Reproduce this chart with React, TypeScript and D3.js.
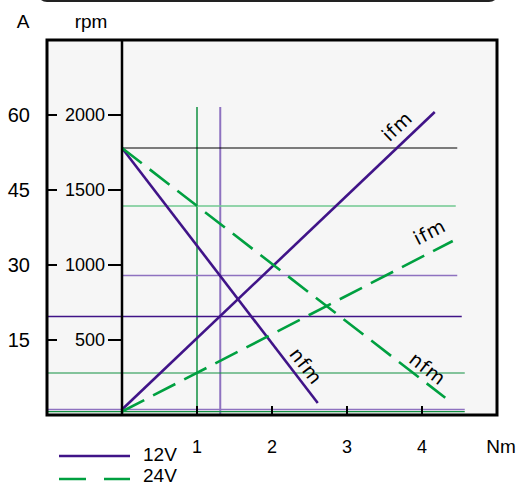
import React from "react";
import * as d3 from "d3";

// torque axis (Nm), speed (rpm) and current (A)
const torqueTicks = [1, 2, 3, 4];
const rpmTicks = [500, 1000, 1500, 2000];
const ampTicks = [15, 30, 45, 60];

// speed curves n = f(M)
const speed12V = [
  { nm: 0, rpm: 1780 },
  { nm: 2.61, rpm: 80 },
];
const speed24V = [
  { nm: 0, rpm: 1780 },
  { nm: 4.31, rpm: 115 },
];
// current curves I = f(M)
const current12V = [
  { nm: 0, a: 1.1 },
  { nm: 4.17, a: 60.6 },
];
const current24V = [
  { nm: 0, a: 0.7 },
  { nm: 4.41, a: 34.8 },
];

// reference lines
const rpmRefs = [
  { rpm: 1780, from: 0, to: 4.47, kind: "black" },
  { rpm: 1393, from: 0, to: 4.45, kind: "lightGreen" },
  { rpm: 930, from: 0, to: 4.47, kind: "lightPurple" },
];
const ampRefs = [
  { a: 19.7, from: -1, to: 4.53, kind: "purple" },
  { a: 8.4, from: -1, to: 4.57, kind: "green" },
  { a: 1.1, from: -1, to: 4.57, kind: "lightPurple" },
  { a: 0.66, from: -1, to: 4.57, kind: "green" },
];
const torqueRefs = [
  { nm: 1.0, top: 2053, kind: "green" },
  { nm: 1.31, top: 2053, kind: "lightPurple" },
];

const PURPLE = "#401488";
const GREEN = "#00a040";
const refStyle: Record<string, { stroke: string; width: number }> = {
  black: { stroke: "#000", width: 1.2 },
  lightGreen: { stroke: "#70c890", width: 1.5 },
  lightPurple: { stroke: "#8e72c0", width: 1.5 },
  purple: { stroke: "#401488", width: 1.3 },
  green: { stroke: "#109040", width: 1.2 },
};

export default function App() {
  const width = 532;
  const height = 487;

  const x = d3.scaleLinear().domain([-1, 5]).range([47, 497]);
  const yRpm = d3.scaleLinear().domain([0, 2500]).range([415, 40]);
  const yAmp = d3.scaleLinear().domain([0, 75]).range([415, 40]);

  const speedLine = d3
    .line<{ nm: number; rpm: number }>()
    .x((d) => x(d.nm))
    .y((d) => yRpm(d.rpm));
  const ampLine = d3
    .line<{ nm: number; a: number }>()
    .x((d) => x(d.nm))
    .y((d) => yAmp(d.a));

  // label along a segment, pushed off perpendicular
  const labelAt = (
    p0: [number, number],
    p1: [number, number],
    t: number,
    off: number
  ) => {
    const dx = p1[0] - p0[0];
    const dy = p1[1] - p0[1];
    const len = Math.hypot(dx, dy);
    const ang = (Math.atan2(dy, dx) * 180) / Math.PI;
    const px = p0[0] + dx * t + (-dy / len) * off;
    const py = p0[1] + dy * t + (dx / len) * off;
    return { px, py, ang };
  };

  const seg = (pts: any[], yf: (d: any) => number) =>
    [
      [x(pts[0].nm), yf(pts[0])],
      [x(pts[1].nm), yf(pts[1])],
    ] as [number, number][];

  const s12 = seg(speed12V, (d) => yRpm(d.rpm));
  const s24 = seg(speed24V, (d) => yRpm(d.rpm));
  const c12 = seg(current12V, (d) => yAmp(d.a));
  const c24 = seg(current24V, (d) => yAmp(d.a));

  const labels = [
    { ...labelAt(c12[0], c12[1], 0.914, -14.5), text: "ifm" },
    { ...labelAt(c24[0], c24[1], 0.956, -17.5), text: "ifm" },
    { ...labelAt(s12[0], s12[1], 0.887, -12), text: "nfm" },
    { ...labelAt(s24[0], s24[1], 0.923, -11), text: "nfm" },
  ];

  const font = "'Liberation Sans', Arial, sans-serif";

  return (
    <svg
      width={width}
      height={height}
      style={{ position: "absolute", left: 0, top: 0, background: "#fff" }}
      fontFamily={font}
    >
      {/* rounded box bottom edge at the top */}
      <rect x={38} y={-30} width={460} height={31} rx={9} fill="none" stroke="#222" strokeWidth={2} />

      {/* axis titles */}
      <text x={23} y={28} fontSize={19} textAnchor="middle">A</text>
      <text x={91} y={28} fontSize={19} textAnchor="middle">rpm</text>

      {/* plot area */}
      <rect x={x(-1)} y={yRpm(2500)} width={x(5) - x(-1)} height={yRpm(0) - yRpm(2500)} fill="#f6f6f6" />

      {/* reference lines */}
      {torqueRefs.map((r, i) => (
        <line
          key={"v" + i}
          x1={x(r.nm)}
          x2={x(r.nm)}
          y1={yRpm(r.top)}
          y2={yRpm(0)}
          stroke={refStyle[r.kind].stroke}
          strokeWidth={r.kind === "green" ? 1.5 : 2}
        />
      ))}
      {rpmRefs.map((r, i) => (
        <line
          key={"r" + i}
          x1={x(r.from)}
          x2={x(r.to)}
          y1={yRpm(r.rpm)}
          y2={yRpm(r.rpm)}
          stroke={refStyle[r.kind].stroke}
          strokeWidth={refStyle[r.kind].width}
        />
      ))}
      {ampRefs.map((r, i) => (
        <line
          key={"a" + i}
          x1={x(r.from)}
          x2={x(r.to)}
          y1={yAmp(r.a)}
          y2={yAmp(r.a)}
          stroke={refStyle[r.kind].stroke}
          strokeWidth={refStyle[r.kind].width}
        />
      ))}

      {/* curves */}
      <path d={speedLine(speed12V) || ""} fill="none" stroke={PURPLE} strokeWidth={2.6} />
      <path d={ampLine(current12V) || ""} fill="none" stroke={PURPLE} strokeWidth={2.6} />
      <path d={speedLine(speed24V) || ""} fill="none" stroke={GREEN} strokeWidth={2.6} strokeDasharray="25,10" />
      <path d={ampLine(current24V) || ""} fill="none" stroke={GREEN} strokeWidth={2.6} strokeDasharray="25,10" />

      {labels.map((l, i) => (
        <text
          key={"l" + i}
          transform={`translate(${l.px},${l.py}) rotate(${l.ang})`}
          textAnchor="middle"
          dominantBaseline="middle"
          fontSize={19}
          letterSpacing={1}
          fontFamily="'DejaVu Sans', sans-serif"
        >
          {l.text}
        </text>
      ))}

      {/* frame and axis */}
      <rect
        x={x(-1)}
        y={yRpm(2500)}
        width={x(5) - x(-1)}
        height={yRpm(0) - yRpm(2500)}
        fill="none"
        stroke="#000"
        strokeWidth={3}
      />
      <line x1={x(0)} x2={x(0)} y1={yRpm(2500)} y2={yRpm(0)} stroke="#000" strokeWidth={2.5} />

      {/* y ticks */}
      {rpmTicks.map((t) => (
        <g key={"yt" + t}>
          <line x1={x(-1)} x2={x(-1) + 10} y1={yRpm(t)} y2={yRpm(t)} stroke="#000" strokeWidth={2} />
          <line x1={x(0) - 14} x2={x(0)} y1={yRpm(t)} y2={yRpm(t)} stroke="#000" strokeWidth={2} />
          <text x={105} y={yRpm(t) + 6} fontSize={18} textAnchor="end">{t}</text>
        </g>
      ))}
      {ampTicks.map((t) => (
        <text key={"at" + t} x={30} y={yAmp(t) + 7} fontSize={20} textAnchor="end">{t}</text>
      ))}

      {/* x ticks */}
      {torqueTicks.map((t) => (
        <g key={"xt" + t}>
          <line x1={x(t)} x2={x(t)} y1={yRpm(0)} y2={yRpm(0) - 9} stroke="#000" strokeWidth={2} />
          <text x={x(t)} y={453} fontSize={18} textAnchor="middle">{t}</text>
        </g>
      ))}
      <text x={501} y={453} fontSize={19} textAnchor="middle">Nm</text>

      {/* legend */}
      <line x1={59} x2={130} y1={456} y2={456} stroke={PURPLE} strokeWidth={2.5} />
      <text x={143} y={461} fontSize={19}>12V</text>
      <line x1={59} x2={130} y1={479} y2={479} stroke={GREEN} strokeWidth={2.5} strokeDasharray="27,18" />
      <text x={143} y={482} fontSize={19}>24V</text>
    </svg>
  );
}
